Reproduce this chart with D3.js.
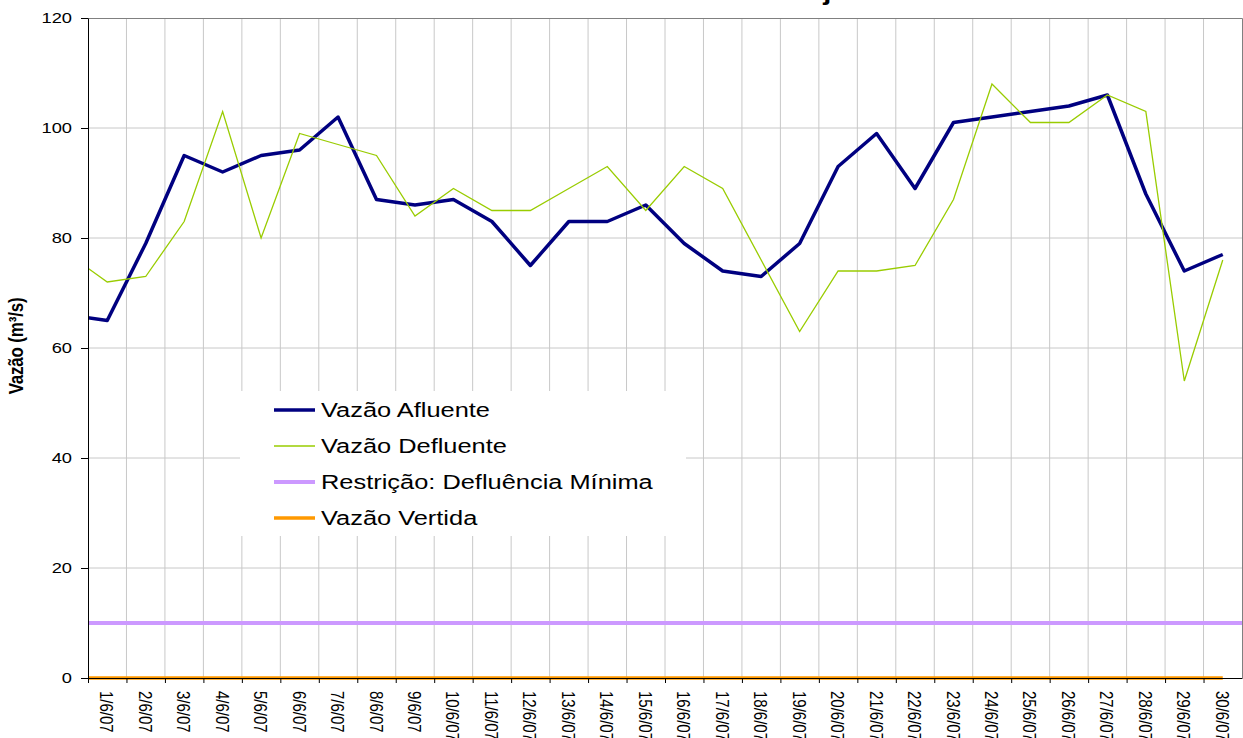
<!DOCTYPE html>
<html>
<head>
<meta charset="utf-8">
<script src="https://cdn.jsdelivr.net/npm/d3@7"></script>
<style>
  body { margin: 0; background: #fff; }
  text { font-family: "Liberation Sans", Arial, sans-serif; fill: #000; }
</style>
</head>
<body>
<svg id="grafico"></svg>
<script>
// dias do mes (rotulos do eixo x)
let dias = ['1/6/07','2/6/07','3/6/07','4/6/07','5/6/07','6/6/07','7/6/07','8/6/07','9/6/07','10/6/07',
  '11/6/07','12/6/07','13/6/07','14/6/07','15/6/07','16/6/07','17/6/07','18/6/07','19/6/07','20/6/07',
  '21/6/07','22/6/07','23/6/07','24/6/07','25/6/07','26/6/07','27/6/07','28/6/07','29/6/07','30/6/07']

// vazoes em m3/s - o primeiro valor e de 31/5, fica fora da area visivel
let afluente = [66, 65, 79, 95, 92, 95, 96, 102, 87, 86, 87, 83, 75, 83, 83, 86, 79, 74, 73, 79, 93,
  99, 89, 101, 102, 103, 104, 106, 88, 74, 77]
let defluente = [77, 72, 73, 83, 103, 80, 99, 97, 95, 84, 89, 85, 85, 89, 93, 85, 93, 89, 76, 63, 74,
  74, 75, 87, 108, 101, 101, 106, 103, 54, 76]
let vertida = [0, 0, 0, 0, 0, 0, 0, 0, 0, 0, 0, 0, 0, 0, 0, 0, 0, 0, 0, 0, 0,
  0, 0, 0, 0, 0, 0, 0, 0, 0, 0]
let defluenciaMinima = 10

let yTicks = [0, 20, 40, 60, 80, 100, 120]
let legendas = ['Vazão Afluente', 'Vazão Defluente', 'Restrição: Defluência Mínima', 'Vazão Vertida']

let width = 1243
let height = 738
let plotLeft = 88
let plotRight = 1242
let plotTop = 18
let plotBottom = 678
let sx = 1.22 // texto do original esta esticado na horizontal

let svg = d3.select('#grafico').attr('width', width).attr('height', height)

// escala nos limites das categorias; centro do dia i em i + 0.5
let xScale = d3.scaleLinear().domain([0, dias.length]).range([plotLeft, plotRight])
let xCentro = (i) => xScale(i - 1 + 0.5) // i = indice no array de vazoes (0 = 31/5)
let yScale = d3.scaleLinear().domain([0, 120]).range([plotBottom, plotTop])

// grade
svg.append('g')
  .selectAll('line')
  .data(d3.range(1, dias.length))
  .enter()
  .append('line')
  .attr('x1', (d) => xScale(d)).attr('x2', (d) => xScale(d))
  .attr('y1', plotTop).attr('y2', plotBottom)
  .attr('stroke', '#c8c8c8').attr('stroke-width', 1)

svg.append('g')
  .selectAll('line')
  .data(yTicks.filter((d) => d > 0 && d < 120))
  .enter()
  .append('line')
  .attr('x1', plotLeft).attr('x2', plotRight)
  .attr('y1', (d) => yScale(d)).attr('y2', (d) => yScale(d))
  .attr('stroke', '#c8c8c8').attr('stroke-width', 1)

// moldura superior e direita
svg.append('path')
  .attr('d', 'M' + plotLeft + ',' + (plotTop + 0.5) + 'H' + (plotRight + 0.5) + 'V' + plotBottom)
  .attr('fill', 'none').attr('stroke', '#808080').attr('stroke-width', 1)

svg.append('defs').append('clipPath').attr('id', 'area')
  .append('rect').attr('x', plotLeft).attr('y', 0).attr('width', plotRight - plotLeft).attr('height', plotBottom + 2)

let linha = d3.line()
  .x((d, i) => xCentro(i))
  .y((d) => yScale(d))

let series = svg.append('g').attr('clip-path', 'url(#area)')

series.append('path')
  .attr('d', d3.line()([[xScale.range()[0], yScale(defluenciaMinima)], [xScale.range()[1], yScale(defluenciaMinima)]]))
  .attr('fill', 'none').attr('stroke', '#cc99ff').attr('stroke-width', 4)

series.append('path')
  .datum(vertida)
  .attr('d', linha)
  .attr('fill', 'none').attr('stroke', '#ff9900').attr('stroke-width', 3.5)

series.append('path')
  .datum(afluente)
  .attr('d', linha)
  .attr('fill', 'none').attr('stroke', '#000080').attr('stroke-width', 3.5)
  .attr('stroke-linejoin', 'round')

series.append('path')
  .datum(defluente)
  .attr('d', linha)
  .attr('fill', 'none').attr('stroke', '#99cc00').attr('stroke-width', 1.3)

// eixos
let xAxis = d3.axisBottom(xScale)
  .tickValues(d3.range(0, dias.length))
  .tickFormat('')
  .tickSize(5)
  .tickSizeOuter(0)

svg.append('g')
  .attr('transform', 'translate(0,' + plotBottom + ')')
  .call(xAxis)
  .call((g) => g.select('.domain').attr('stroke', '#000'))

svg.append('g')
  .selectAll('text')
  .data(dias)
  .enter()
  .append('text')
  .attr('transform', (d, i) => 'translate(' + (xScale(i + 0.5) - 7) + ',' + (plotBottom + 13) + ') rotate(90) scale(1,' + sx + ')')
  .attr('font-size', 15)
  .text((d) => d)

let yAxis = d3.axisLeft(yScale)
  .tickValues(yTicks)
  .tickSize(7)
  .tickSizeOuter(0)

svg.append('g')
  .attr('transform', 'translate(' + plotLeft + ',0)')
  .call(yAxis)
  .call((g) => g.select('.domain').attr('stroke', '#000'))
  .call((g) => g.selectAll('.tick text')
    .attr('font-size', 15)
    .attr('font-family', '"Liberation Sans", Arial, sans-serif')
    .attr('x', -16 / sx)
    .attr('transform', 'scale(' + sx + ',1)'))

// titulo do eixo y
svg.append('text')
  .attr('transform', 'translate(23,346) rotate(-90) scale(1,' + sx + ')')
  .attr('text-anchor', 'middle')
  .attr('font-size', 17)
  .attr('font-weight', 'bold')
  .attr('letter-spacing', -0.2)
  .text('Vazão (m³/s)')

// titulo (cortado no topo)
svg.append('text')
  .attr('transform', 'translate(692,0) scale(' + sx + ',1)')
  .attr('text-anchor', 'middle')
  .attr('font-size', 24)
  .attr('font-weight', 'bold')
  .text('Vazões Afluente e Defluente - junho 2007')

// legenda
let cores = ['#000080', '#99cc00', '#cc99ff', '#ff9900']
let espessuras = [3.5, 1.3, 4, 3.5]

let legenda = svg.append('g').attr('transform', 'translate(240,391)')
legenda.append('rect').attr('width', 446).attr('height', 145).attr('fill', '#fff')

let itens = legenda.selectAll('g.item')
  .data(legendas)
  .enter()
  .append('g')
  .attr('class', 'item')
  .attr('transform', (d, i) => 'translate(0,' + (19 + i * 36) + ')')

itens.append('line')
  .attr('x1', 34).attr('x2', 75)
  .attr('stroke', (d, i) => cores[i])
  .attr('stroke-width', (d, i) => espessuras[i])

itens.append('text')
  .attr('transform', 'translate(81,7) scale(1.27,1)')
  .attr('font-size', 20)
  .text((d) => d)
</script>
</body>
</html>
